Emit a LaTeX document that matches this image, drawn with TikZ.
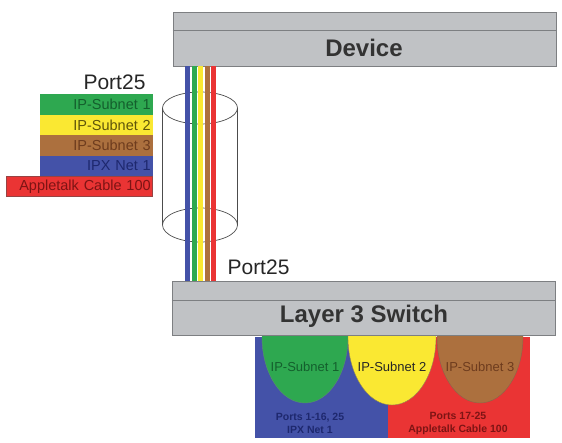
\documentclass[tikz,border=0pt]{standalone}
\usepackage{fontspec}
\setmainfont{Liberation Sans}
\setsansfont{Liberation Sans}
\definecolor{boxgray}{RGB}{192,194,197}
\definecolor{boxedge}{RGB}{125,127,130}
\definecolor{cgreen}{RGB}{46,168,80}
\definecolor{cyellow}{RGB}{250,232,50}
\definecolor{cbrown}{RGB}{172,112,62}
\definecolor{cblue}{RGB}{68,82,168}
\definecolor{cred}{RGB}{234,52,52}
\definecolor{tgreen}{RGB}{20,95,45}
\definecolor{tyellow}{RGB}{95,85,10}
\definecolor{tbrown}{RGB}{110,60,30}
\definecolor{tblue}{RGB}{30,40,110}
\definecolor{tred}{RGB}{125,20,20}
\tikzset{
  unitbox/.style={fill=boxgray, draw=boxedge, line width=0.8pt, inner sep=0pt, minimum width=383pt, minimum height=54pt},
  boxtitle/.style={font=\bfseries\fontsize{24}{26}\selectfont, text=black!80, inner sep=0pt},
  porttext/.style={font=\fontsize{21}{23}\selectfont, text=black!85, inner sep=0pt},
  lbl/.style={anchor=north east, inner xsep=2pt, inner ysep=0pt, minimum height=20.5pt, text width=109pt, align=right, font=\fontsize{14.5}{15}\selectfont},
  stripe/.style={line width=5pt},
  cyl/.style={draw=black!70, line width=0.7pt},
  subnettext/.style={font=\fontsize{13}{14}\selectfont, inner sep=0pt},
  porttxt/.style={font=\bfseries\fontsize{10.5}{13}\selectfont, align=center, inner sep=0pt}
}
\begin{document}
\begin{tikzpicture}[x=1pt,y=-1pt]
\useasboundingbox (0,0) rectangle (562,443);
% bottom panel
\fill[cblue] (255,337) rectangle (388,438);
\fill[cred] (388,337) rectangle (530,438);
\begin{scope}
  \clip (255,337) rectangle (530,438);
  \fill[cgreen, draw=tgreen!70, line width=0.4pt] (305,337) ellipse[x radius=43pt, y radius=66pt];
  \fill[cyellow, draw=tyellow!70, line width=0.4pt] (392,337) ellipse[x radius=44pt, y radius=68pt];
  \fill[cbrown, draw=tbrown!80, line width=0.4pt] (480,337) ellipse[x radius=43pt, y radius=66pt];
\end{scope}
\node[subnettext, text=tgreen] (s1) at (305,367) {IP-Subnet 1};
\node[subnettext, text=black!85] (s2) at (392,367) {IP-Subnet 2};
\node[subnettext, text=tbrown] (s3) at (480,367) {IP-Subnet 3};
\node[porttxt, text=tblue] (pa) at (310,423) {Ports 1-16, 25\\IPX Net 1};
\node[porttxt, text=tred] (pb) at (458,423) {Ports 17-25\\Appletalk Cable 100};
% boxes
\node[unitbox] (device) at (364.5,39) {};
\draw[boxedge, line width=1pt] (device.west |- 0,31) -- (device.east |- 0,31);
\node[boxtitle] (devt) at (364,48) {Device};
\node[unitbox] (switch) at (363.5,308.5) {};
\draw[boxedge, line width=1pt] (switch.west |- 0,301) -- (switch.east |- 0,301);
\node[boxtitle] (swt) at (364,316) {Layer 3 Switch};
% cylinder
\draw[cyl] (200,108) ellipse[x radius=37.5pt, y radius=16pt];
\draw[cyl] (200,225) ellipse[x radius=37.5pt, y radius=17pt];
\draw[cyl] (162.5,108) -- (162.5,225);
\draw[cyl] (237.5,108) -- (237.5,225);
% stripes
\draw[stripe, cblue] (187,0 |- device.south) -- (187,0 |- switch.north);
\draw[stripe, cgreen] (194,0 |- device.south) -- (194,0 |- switch.north);
\draw[stripe, cyellow] (200.5,0 |- device.south) -- (200.5,0 |- switch.north);
\draw[stripe, cbrown] (207,0 |- device.south) -- (207,0 |- switch.north);
\draw[stripe, cred] (213,0 |- device.south) -- (213,0 |- switch.north);
% port labels
\node[porttext] (p1) at (114.5,82) {Port25};
\node[porttext] (p2) at (258.5,267) {Port25};
% left labels
\node[lbl, fill=cgreen, text=tgreen] (l1) at (153,94) {IP-Subnet 1};
\node[lbl, fill=cyellow, text=tyellow] (l2) at (153,114.5) {IP-Subnet 2};
\node[lbl, fill=cbrown, text=tbrown] (l3) at (153,135) {IP-Subnet 3};
\node[lbl, fill=cblue, text=tblue] (l4) at (153,155.5) {IPX Net 1};
\node[lbl, fill=cred, text=tred, text width=142pt, draw=tred!80, line width=0.6pt] (l5) at (153,176) {Appletalk Cable 100};
\end{tikzpicture}
\end{document}
